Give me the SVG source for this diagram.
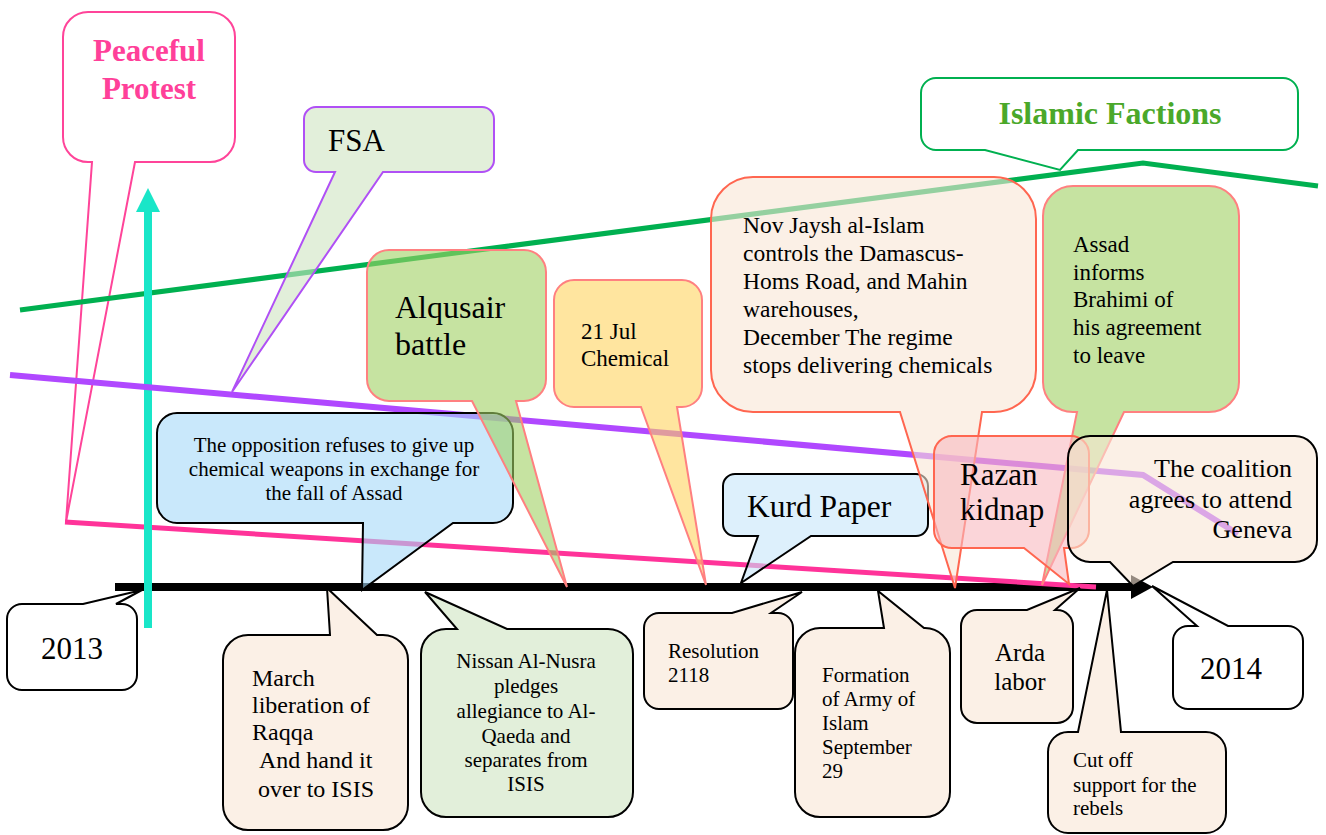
<svg xmlns="http://www.w3.org/2000/svg" width="1326" height="835" viewBox="0 0 1326 835">
<style>
text { font-family: "Liberation Serif", "Times New Roman", serif; fill: #000; }
.co { stroke-width: 2; stroke-linejoin: miter; }
.blk { stroke: #000; }
.sal { stroke: #ff8080; }
.red { stroke: #ff6650; }
.peach { fill: #f8e6d5; fill-opacity: 0.6; }
.lgreen { fill: #cfe4c1; fill-opacity: 0.6; }
.green { fill: #a0d062; fill-opacity: 0.6; }
.blue { fill: #a5d9f8; fill-opacity: 0.6; }
.lblue { fill: #c6e6fa; fill-opacity: 0.6; }
.yellow { fill: #ffd45f; fill-opacity: 0.6; }
.pink { fill: #f8b9c0; fill-opacity: 0.6; }
.white { fill: #fff; }
.line { fill: none; stroke-linecap: butt; stroke-linejoin: miter; }
</style>

<g id="node-peaceful-protest">
<path class="co white" stroke="#ff4499" d="M88,12 H210 A25,25 0 0 1 235,37 V137 A25,25 0 0 1 210,162 H135 L66,522 L92,162 H88 A25,25 0 0 1 63,137 V37 A25,25 0 0 1 88,12 Z"/>
<text x="149" y="61" text-anchor="middle" font-size="31" font-weight="bold" style="fill:#ff4099">Peaceful</text>
<text x="149" y="99" text-anchor="middle" font-size="31" font-weight="bold" style="fill:#ff4099">Protest</text>
</g>

<g id="connectors">
<line class="line" x1="115" y1="587" x2="1134" y2="587" stroke="#000" stroke-width="8"/>
<polygon points="1153,587 1131,575 1131,599" fill="#000"/>
<line class="line" x1="65" y1="522" x2="1096" y2="587" stroke="#ff3399" stroke-width="5"/>
<polyline class="line" points="20,310 1143,163 1318,186" stroke="#00b050" stroke-width="5"/>
<line class="line" x1="148" y1="628" x2="148" y2="208" stroke="#19e6c8" stroke-width="8"/>
<polygon points="148,188 160,212 136,212" fill="#19e6c8"/>
<polyline class="line" points="10,375 1143,475 1238,534" stroke="#b048ff" stroke-width="6"/>
</g>

<g id="node-fsa">
<path class="co lgreen" stroke="#b050f5" stroke-width="2.5" d="M316,107 H482 A12,12 0 0 1 494,119 V160 A12,12 0 0 1 482,172 H383 L232,392 L335,172 H316 A12,12 0 0 1 304,160 V119 A12,12 0 0 1 316,107 Z"/>
<text x="328" y="151" font-size="31">FSA</text>
</g>

<g id="node-islamic-factions">
<path class="co white" stroke="#00b050" d="M936,78 H1283 A15,15 0 0 1 1298,93 V135 A15,15 0 0 1 1283,150 H1078 L1060,170 L985,150 H936 A15,15 0 0 1 921,135 V93 A15,15 0 0 1 936,78 Z"/>
<text x="1110" y="124" text-anchor="middle" font-size="32" font-weight="bold" style="fill:#4aa82a">Islamic Factions</text>
</g>

<g id="node-opposition">
<path class="co blue blk" d="M177,413 H493 A20,20 0 0 1 513,433 V503 A20,20 0 0 1 493,523 H453 L362,590 L363,523 H177 A20,20 0 0 1 157,503 V433 A20,20 0 0 1 177,413 Z"/>
<text x="334" y="452" text-anchor="middle" font-size="21">The opposition refuses to give up</text>
<text x="334" y="476" text-anchor="middle" font-size="21">chemical weapons in exchange for</text>
<text x="334" y="500" text-anchor="middle" font-size="21">the fall of Assad</text>
</g>

<g id="node-alqusair">
<path class="co green sal" d="M389,250 H524 A22,22 0 0 1 546,272 V379 A22,22 0 0 1 524,401 H516 L567,587 L472,401 H389 A22,22 0 0 1 367,379 V272 A22,22 0 0 1 389,250 Z"/>
<text x="395" y="318" font-size="32">Alqusair</text>
<text x="395" y="355" font-size="32">battle</text>
</g>

<g id="node-chemical">
<path class="co yellow sal" d="M574,280 H682 A20,20 0 0 1 702,300 V387 A20,20 0 0 1 682,407 H677 L706,585 L641,407 H574 A20,20 0 0 1 554,387 V300 A20,20 0 0 1 574,280 Z"/>
<text x="581" y="339" font-size="23">21 Jul</text>
<text x="581" y="366" font-size="23">Chemical</text>
</g>

<g id="node-kurd-paper">
<path class="co lblue blk" d="M735,474 H916 A12,12 0 0 1 928,486 V524 A12,12 0 0 1 916,536 H811 L741,583 L758,536 H735 A12,12 0 0 1 723,524 V486 A12,12 0 0 1 735,474 Z"/>
<text x="747" y="517" font-size="31.5">Kurd Paper</text>
</g>

<g id="node-jaysh">
<path class="co peach red" d="M753,177 H994 A42,42 0 0 1 1036,219 V370 A42,42 0 0 1 994,412 H982 L955,588 L900,412 H753 A42,42 0 0 1 711,370 V219 A42,42 0 0 1 753,177 Z"/>
<text x="743" y="233" font-size="23.5">Nov Jaysh al-Islam</text>
<text x="743" y="261" font-size="23.5">controls the Damascus-</text>
<text x="743" y="289" font-size="23.5">Homs Road, and Mahin</text>
<text x="743" y="317" font-size="23.5">warehouses,</text>
<text x="743" y="345" font-size="23.5">December The regime</text>
<text x="743" y="373" font-size="23.5">stops delivering chemicals</text>
</g>

<g id="node-assad">
<path class="co green sal" d="M1073,186 H1209 A30,30 0 0 1 1239,216 V382 A30,30 0 0 1 1209,412 H1124 L1042,585 L1077,412 H1073 A30,30 0 0 1 1043,382 V216 A30,30 0 0 1 1073,186 Z"/>
<text x="1073" y="252" font-size="23">Assad</text>
<text x="1073" y="280" font-size="23">informs</text>
<text x="1073" y="307" font-size="23">Brahimi of</text>
<text x="1073" y="335" font-size="23">his agreement</text>
<text x="1073" y="363" font-size="23">to leave</text>
</g>

<g id="node-razan">
<path class="co pink red" d="M952,436 H1071 A18,18 0 0 1 1089,454 V530 A18,18 0 0 1 1071,548 H1064 L1069,584 L1024,548 H952 A18,18 0 0 1 934,530 V454 A18,18 0 0 1 952,436 Z"/>
<text x="960" y="485" font-size="31">Razan</text>
<text x="960" y="520" font-size="31">kidnap</text>
</g>

<g id="node-coalition">
<path class="co peach blk" d="M1090,436 H1295 A22,22 0 0 1 1317,458 V540 A22,22 0 0 1 1295,562 H1173 L1133,586 L1110,562 H1090 A22,22 0 0 1 1068,540 V458 A22,22 0 0 1 1090,436 Z"/>
<text x="1292" y="477" text-anchor="end" font-size="26">The coalition</text>
<text x="1292" y="508" text-anchor="end" font-size="26">agrees to attend</text>
<text x="1292" y="538" text-anchor="end" font-size="26">Geneva</text>
</g>

<g id="node-2013">
<path class="co white blk" d="M22,604 H83 L142,590 L116,604 H122 A15,15 0 0 1 137,619 V675 A15,15 0 0 1 122,690 H22 A15,15 0 0 1 7,675 V619 A15,15 0 0 1 22,604 Z"/>
<text x="72" y="659" text-anchor="middle" font-size="31">2013</text>
</g>

<g id="node-march">
<path class="co peach blk" d="M248,635 H330 L327,588 L377,635 H383 A25,25 0 0 1 408,660 V805 A25,25 0 0 1 383,830 H248 A25,25 0 0 1 223,805 V660 A25,25 0 0 1 248,635 Z"/>
<text x="252" y="686" font-size="24">March</text>
<text x="252" y="713" font-size="24">liberation of</text>
<text x="252" y="740" font-size="24">Raqqa</text>
<text x="259" y="768" font-size="24">And hand it</text>
<text x="258" y="797" font-size="24">over to ISIS</text>
</g>

<g id="node-nusra">
<path class="co lgreen blk" d="M446,629 H457 L425,592 L507,629 H608 A25,25 0 0 1 633,654 V792 A25,25 0 0 1 608,817 H446 A25,25 0 0 1 421,792 V654 A25,25 0 0 1 446,629 Z"/>
<text x="526" y="668" text-anchor="middle" font-size="21">Nissan Al-Nusra</text>
<text x="526" y="693" text-anchor="middle" font-size="21">pledges</text>
<text x="526" y="718" text-anchor="middle" font-size="21">allegiance to Al-</text>
<text x="526" y="743" text-anchor="middle" font-size="21">Qaeda and</text>
<text x="526" y="767" text-anchor="middle" font-size="21">separates from</text>
<text x="526" y="791" text-anchor="middle" font-size="21">ISIS</text>
</g>

<g id="node-resolution">
<path class="co peach blk" d="M659,613 H732 L802,592 L771,613 H778 A15,15 0 0 1 793,628 V694 A15,15 0 0 1 778,709 H659 A15,15 0 0 1 644,694 V628 A15,15 0 0 1 659,613 Z"/>
<text x="668" y="658" font-size="21">Resolution</text>
<text x="668" y="682" font-size="21">2118</text>
</g>

<g id="node-army-of-islam">
<path class="co peach blk" d="M820,628 H884 L878,591 L924,628 H925 A25,25 0 0 1 950,653 V792 A25,25 0 0 1 925,817 H820 A25,25 0 0 1 795,792 V653 A25,25 0 0 1 820,628 Z"/>
<text x="822" y="682" font-size="21">Formation</text>
<text x="822" y="706" font-size="21">of Army of</text>
<text x="822" y="730" font-size="21">Islam</text>
<text x="822" y="754" font-size="21">September</text>
<text x="822" y="778" font-size="21">29</text>
</g>

<g id="node-arda">
<path class="co peach blk" d="M977,610 H1027 L1080,588 L1055,610 H1057 A16,16 0 0 1 1073,626 V707 A16,16 0 0 1 1057,723 H977 A16,16 0 0 1 961,707 V626 A16,16 0 0 1 977,610 Z"/>
<text x="1020" y="661" text-anchor="middle" font-size="25">Arda</text>
<text x="1020" y="690" text-anchor="middle" font-size="25">labor</text>
</g>

<g id="node-cut-off">
<path class="co peach blk" d="M1068,732 H1078 L1107,590 L1121,732 H1206 A20,20 0 0 1 1226,752 V813 A20,20 0 0 1 1206,833 H1068 A20,20 0 0 1 1048,813 V752 A20,20 0 0 1 1068,732 Z"/>
<text x="1073" y="767" font-size="21">Cut off</text>
<text x="1073" y="792" font-size="21">support for the</text>
<text x="1073" y="815" font-size="21">rebels</text>
</g>

<g id="node-2014">
<path class="co white blk" d="M1188,626 H1197 L1152,586 L1228,626 H1288 A15,15 0 0 1 1303,641 V694 A15,15 0 0 1 1288,709 H1188 A15,15 0 0 1 1173,694 V641 A15,15 0 0 1 1188,626 Z"/>
<text x="1231" y="679" text-anchor="middle" font-size="31">2014</text>
</g>
</svg>
